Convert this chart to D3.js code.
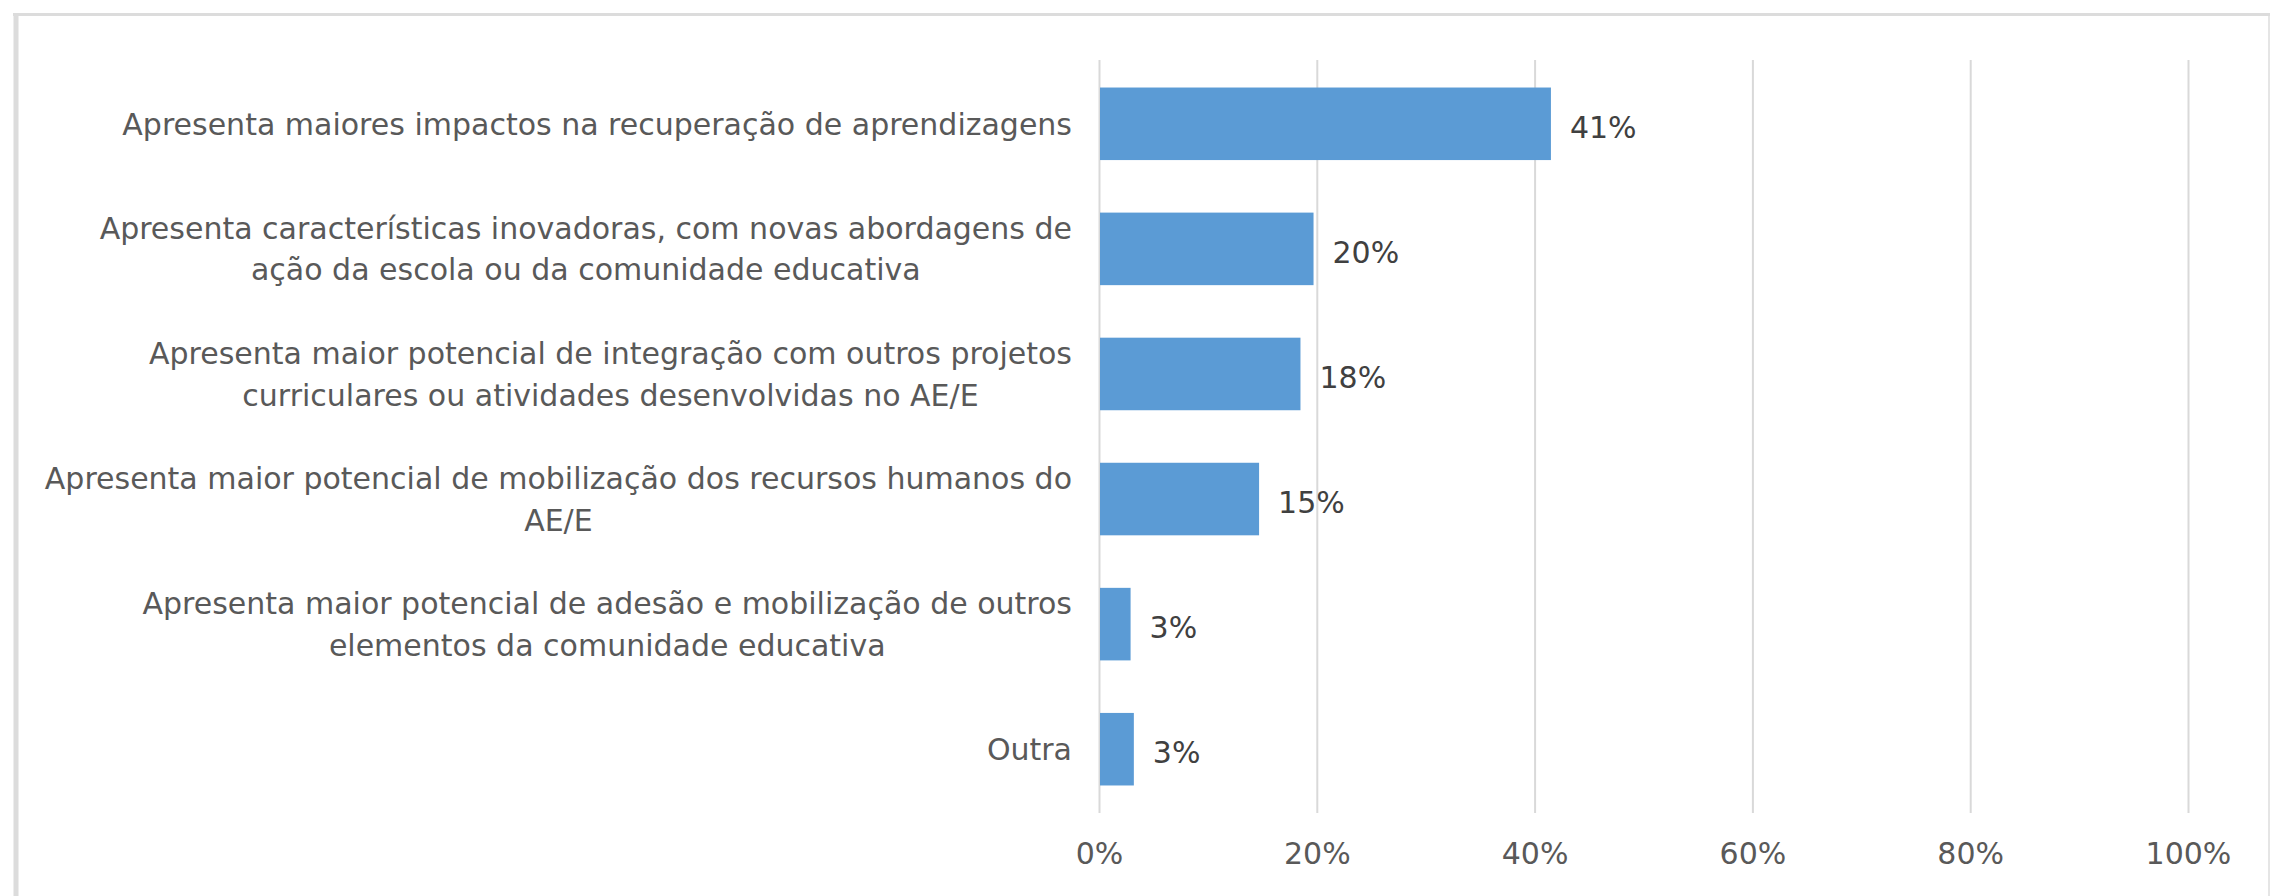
<!DOCTYPE html>
<html>
<head>
<meta charset="utf-8">
<script src="https://cdn.jsdelivr.net/npm/d3@7"></script>
<style>
  body { margin: 0; background: #fff; }
  text { font-family: "DejaVu Sans", Verdana, sans-serif; }
</style>
</head>
<body>
<div id="chart"></div>
<script>
var svgWidth = 2270;
var svgHeight = 896;

// categories, one array of lines per bar
var categories = [
    ["Apresenta maiores impactos na recuperação de aprendizagens"],
    ["Apresenta características inovadoras, com novas abordagens de", "ação da escola ou da comunidade educativa"],
    ["Apresenta maior potencial de integração com outros projetos", "curriculares ou atividades desenvolvidas no AE/E"],
    ["Apresenta maior potencial de mobilização dos recursos humanos do", "AE/E"],
    ["Apresenta maior potencial de adesão e mobilização de outros", "elementos da comunidade educativa"],
    ["Outra"]
];
var values = [0.415, 0.197, 0.185, 0.147, 0.029, 0.032];
var valueLabels = ["41%", "20%", "18%", "15%", "3%", "3%"];
var tickValues = [0, 0.2, 0.4, 0.6, 0.8, 1];

var margin = { top: 60, right: 82, bottom: 83, left: 1099 };
var width = svgWidth - margin.left - margin.right;
var height = svgHeight - margin.top - margin.bottom;

var svg = d3.select("#chart")
    .append("svg")
    .attr("width", svgWidth)
    .attr("height", svgHeight);

// outer frame (top, left and right edges; the bottom is cut off)
var frame = svg.append("g")
    .attr("stroke", "#dcdcdc")
    .attr("fill", "none");
frame.append("line")
    .attr("x1", 13).attr("x2", svgWidth)
    .attr("y1", 14.5).attr("y2", 14.5)
    .attr("stroke-width", 3);
frame.append("line")
    .attr("x1", 16).attr("x2", 16)
    .attr("y1", 13).attr("y2", svgHeight)
    .attr("stroke-width", 5);
frame.append("line")
    .attr("x1", 2269).attr("x2", 2269)
    .attr("y1", 13).attr("y2", svgHeight)
    .attr("stroke-width", 1.5);

var chartGroup = svg.append("g")
    .attr("transform", `translate(${margin.left}, ${margin.top})`);

var xScale = d3.scaleLinear()
    .domain([0, 1])
    .range([0, width]);

var yScale = d3.scaleBand()
    .domain(d3.range(categories.length))
    .range([0, height])
    .paddingInner(0.42)
    .paddingOuter(0.22);

// gridlines + tick labels through the axis
var bottomAxis = d3.axisBottom(xScale)
    .tickValues(tickValues)
    .tickFormat(d3.format(".0%"))
    .tickSize(-height)
    .tickPadding(30);

var xAxis = chartGroup.append("g")
    .attr("transform", `translate(0, ${height})`)
    .call(bottomAxis);

xAxis.select(".domain").remove();
xAxis.selectAll(".tick line")
    .attr("stroke", "#d9d9d9")
    .attr("stroke-width", 2);
xAxis.selectAll(".tick text")
    .attr("fill", "#595959")
    .style("font-size", "30px")
    .attr("dy", "0.71em")
    .style("font-family", "\"DejaVu Sans\", sans-serif");

// bars
chartGroup.selectAll("rect.bar")
    .data(values)
    .enter()
    .append("rect")
    .attr("class", "bar")
    .attr("x", 1)
    .attr("y", (d, i) => yScale(i))
    .attr("width", d => xScale(d) - 1)
    .attr("height", yScale.bandwidth())
    .attr("fill", "#5b9bd5");

// value labels
chartGroup.selectAll("text.value")
    .data(values)
    .enter()
    .append("text")
    .attr("class", "value")
    .attr("x", d => xScale(d) + 19)
    .attr("y", (d, i) => yScale(i) + yScale.bandwidth() / 2 + 3)
    .attr("dy", "0.36em")
    .attr("fill", "#404040")
    .style("font-size", "30px")
    .text((d, i) => valueLabels[i]);

// category labels: lines centred on each other, block right-aligned
var labelRight = -27;
var lineGap = 41.5;
var catGroups = chartGroup.selectAll("g.cat")
    .data(categories)
    .enter()
    .append("g")
    .attr("class", "cat");

catGroups.each(function (lines, i) {
    var g = d3.select(this);
    var cy = yScale(i) + yScale.bandwidth() / 2;
    var texts = g.selectAll("text")
        .data(lines)
        .enter()
        .append("text")
        .attr("y", (d, j) => cy + (j - (lines.length - 1) / 2) * lineGap)
        .attr("dy", "0.36em")
        .attr("text-anchor", "middle")
        .attr("fill", "#595959")
        .style("font-size", "30px")
        .text(d => d);
    var maxW = d3.max(texts.nodes(), n => n.getComputedTextLength());
    texts.attr("x", labelRight - maxW / 2);
});
</script>
</body>
</html>
